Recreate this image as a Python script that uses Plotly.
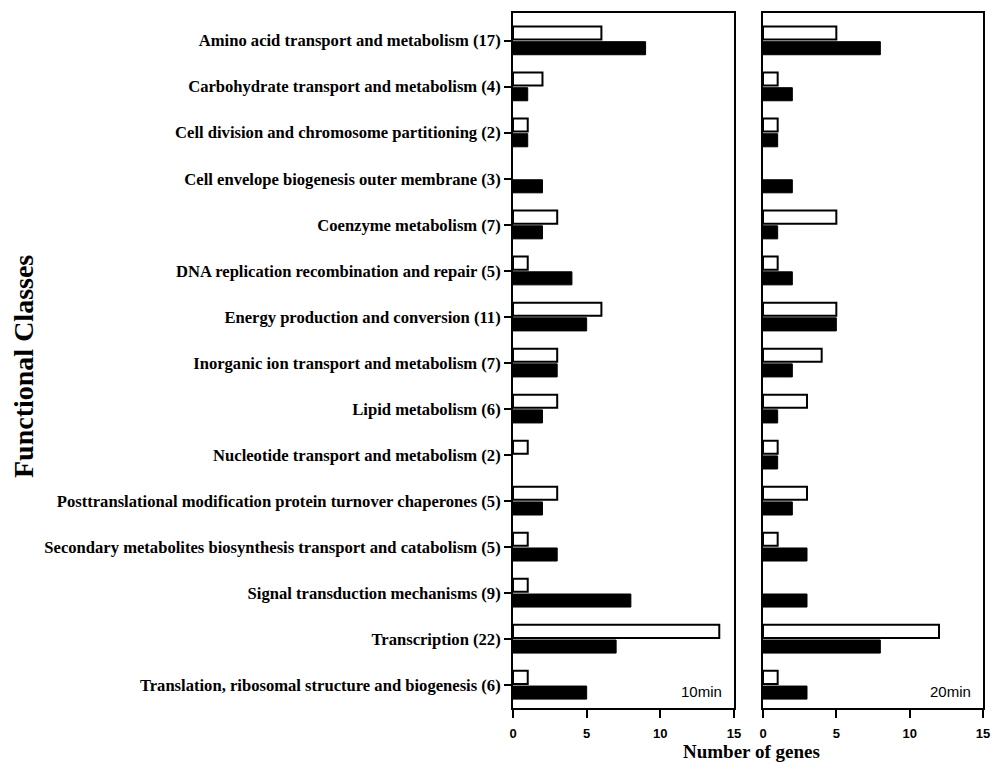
import plotly.graph_objects as go
from plotly.subplots import make_subplots

categories = [
    "Amino acid transport and metabolism (17)",
    "Carbohydrate transport and metabolism (4)",
    "Cell division and chromosome partitioning (2)",
    "Cell envelope biogenesis outer membrane (3)",
    "Coenzyme metabolism (7)",
    "DNA replication recombination and repair (5)",
    "Energy production and conversion (11)",
    "Inorganic ion transport and metabolism (7)",
    "Lipid metabolism (6)",
    "Nucleotide transport and metabolism (2)",
    "Posttranslational modification protein turnover chaperones (5)",
    "Secondary metabolites biosynthesis transport and catabolism (5)",
    "Signal transduction mechanisms (9)",
    "Transcription (22)",
    "Translation, ribosomal structure and biogenesis (6)",
]
white_10 = [6, 2, 1, 0, 3, 1, 6, 3, 3, 1, 3, 1, 1, 14, 1]
black_10 = [9, 1, 1, 2, 2, 4, 5, 3, 2, 0, 2, 3, 8, 7, 5]
white_20 = [5, 1, 1, 0, 5, 1, 5, 4, 3, 1, 3, 1, 0, 12, 1]
black_20 = [8, 2, 1, 2, 1, 2, 5, 2, 1, 1, 2, 3, 3, 8, 3]
panel_labels = ["10min", "20min"]
x_ticks = [0, 5, 10, 15]

# page body has an 8px margin, so the figure is sized to fit the window
OFF = 8
W, H = 1003 - 2 * OFF, 772 - 2 * OFF
fig = make_subplots(rows=1, cols=2, shared_yaxes=True, horizontal_spacing=0.03)

for col, (wv, bv) in enumerate([(white_10, black_10), (white_20, black_20)], start=1):
    fig.add_trace(go.Bar(y=categories, x=wv, orientation="h",
                         marker=dict(color="white",
                                     line=dict(color="black", width=[0 if v == 0 else 2 for v in wv])),
                         showlegend=False), row=1, col=col)
    fig.add_trace(go.Bar(y=categories, x=bv, orientation="h",
                         marker=dict(color="black",
                                     line=dict(color="black", width=[0 if v == 0 else 1 for v in bv])),
                         showlegend=False), row=1, col=col)

top_px, bot_px = 13 - OFF, 708 - OFF
plot_h = bot_px - top_px


def py(screen_y):
    return (bot_px - (screen_y - OFF)) / plot_h


def px(screen_x):
    return (screen_x - OFF) / W


fig.update_layout(
    template="none",
    width=W, height=H,
    margin=dict(l=0, r=0, t=top_px, b=H - bot_px),
    barmode="group", bargap=0.34, bargroupgap=0.14,
    plot_bgcolor="white", paper_bgcolor="white",
    showlegend=False,
)

xcommon = dict(range=[0, 15], tickvals=x_ticks, ticks="outside", ticklen=8, tickwidth=2,
               tickcolor="black", showline=True, linecolor="black", linewidth=2, mirror=True,
               showgrid=False, zeroline=False, automargin=False, ticklabelstandoff=4,
               tickfont=dict(family="Arial", size=13, color="black", weight="bold"))
fig.update_layout(
    xaxis=dict(domain=[px(513), px(734)], **xcommon),
    xaxis2=dict(domain=[px(763), px(983)], **xcommon),
)
ycommon = dict(range=[14.5, -0.6], showline=True, linecolor="black", linewidth=2, mirror=True,
               showgrid=False, zeroline=False, automargin=False, type="category")
fig.update_layout(
    yaxis=dict(ticks="outside", ticklen=7, tickwidth=2, tickcolor="black",
               tickfont=dict(family="Liberation Serif", size=16.6, color="black", weight="bold"),
               **ycommon),
    yaxis2=dict(ticks="", showticklabels=False, matches="y", **ycommon),
)

for i, ax in enumerate(["x", "x2"]):
    fig.add_annotation(x=1, y=0, xref=f"{ax} domain", yref=f"{'y' if i == 0 else 'y2'} domain",
                       xanchor="right", yanchor="bottom", xshift=-10, yshift=6,
                       text=panel_labels[i], showarrow=False,
                       font=dict(family="Arial", size=15, color="black"))
fig.add_annotation(x=px(751), y=py(752), xref="paper", yref="paper",
                   xanchor="center", yanchor="middle", text="<b>Number of genes</b>", showarrow=False,
                   font=dict(family="Liberation Serif", size=19, color="black"))
fig.add_annotation(x=px(23), y=py(367), xref="paper", yref="paper",
                   xanchor="center", yanchor="middle",
                   textangle=-90, text="<b>Functional Classes</b>", showarrow=False,
                   font=dict(family="Liberation Serif", size=28, color="black"))

fig.write_html("out.html")
